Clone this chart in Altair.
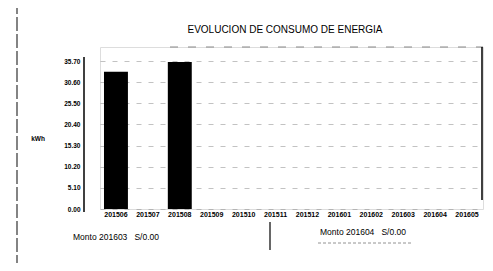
import altair as alt
import pandas as pd

# ---- data ----
months = ["201506", "201507", "201508", "201509", "201510", "201511",
          "201512", "201601", "201602", "201603", "201604", "201605"]
consumo = [33.1, None, 35.5, None, None, None, None, None, None, None, None, None]
y_ticks = [0.00, 5.10, 10.20, 15.30, 20.40, 25.50, 30.60, 35.70]
title_text = "EVOLUCION DE CONSUMO DE ENERGIA"
y_title = "kWh"
monto_labels = ["Monto 201603\u00a0\u00a0\u00a0S/0.00", "Monto 201604\u00a0\u00a0\u00a0S/0.00"]

W, H = 383, 162
FONT = "Liberation Sans"

df = pd.DataFrame({"mes": months, "kwh": consumo})

bars = alt.Chart(df).mark_bar(color="black").encode(
    x=alt.X("mes:N",
            scale=alt.Scale(domain=months, paddingInner=0.25, paddingOuter=0.125),
            axis=alt.Axis(title=None, labelAngle=0, ticks=False, tickSize=0, domain=False,
                          labelFontSize=7, labelFontWeight="bold", labelPadding=1,
                          grid=False, labelColor="black", labelFont=FONT)),
    y=alt.Y("kwh:Q",
            scale=alt.Scale(domain=[0, 39.1], nice=False, zero=True),
            axis=alt.Axis(values=y_ticks, format=".2f", title=None,
                          ticks=False, tickSize=0, domain=False,
                          labelFontSize=6.5, labelFontWeight="bold", labelPadding=20,
                          labelColor="black", labelFont=FONT,
                          gridColor="#999999", gridDash=[5, 7], gridOpacity=0.6, gridWidth=1)),
)

# frame decorations
frame_df = pd.DataFrame({"k": ["a"]})
axis_line = alt.Chart(frame_df).mark_rule(color="black", strokeWidth=1.5).encode(
    x=alt.value(-16), y=alt.value(10), y2=alt.value(165))
top_line = alt.Chart(frame_df).mark_rule(color="#888888", strokeDash=[8, 10], strokeWidth=1).encode(
    x=alt.value(70), x2=alt.value(W), y=alt.value(0))
right_line = alt.Chart(frame_df).mark_rule(color="black", strokeWidth=1.5).encode(
    x=alt.value(W - 1), y=alt.value(0), y2=alt.value(153))
left_border = alt.Chart(frame_df).mark_rule(color="#333333", strokeWidth=1.2, strokeDash=[14, 3]).encode(
    x=alt.value(-83), y=alt.value(-47), y2=alt.value(216))
divider = alt.Chart(frame_df).mark_rule(color="black", strokeWidth=1.2).encode(
    x=alt.value(170), y=alt.value(175), y2=alt.value(203))
underline = alt.Chart(frame_df).mark_rule(color="#777777", strokeWidth=0.8, strokeDash=[3, 2]).encode(
    x=alt.value(218), x2=alt.value(312), y=alt.value(196))

text_df = pd.DataFrame({"t": [title_text, y_title] + monto_labels})
title_mark = alt.Chart(text_df.iloc[[0]]).mark_text(fontSize=10, font=FONT, color="black",
                                                    align="center", baseline="middle").encode(
    text="t:N", x=alt.value(185), y=alt.value(-17))
ytitle_mark = alt.Chart(text_df.iloc[[1]]).mark_text(fontSize=6.5, font=FONT, fontWeight="bold",
                                                     color="black", align="center",
                                                     baseline="middle").encode(
    text="t:N", x=alt.value(-62), y=alt.value(92))
m1 = alt.Chart(text_df.iloc[[2]]).mark_text(fontSize=8.5, font=FONT, color="black", align="center").encode(
    text="t:N", x=alt.value(16), y=alt.value(190))
m2 = alt.Chart(text_df.iloc[[3]]).mark_text(fontSize=8.5, font=FONT, color="black", align="center").encode(
    text="t:N", x=alt.value(263), y=alt.value(185))

chart = alt.layer(bars, axis_line, top_line, right_line, left_border, divider, underline,
                  title_mark, ytitle_mark, m1, m2).properties(
    width=W, height=H,
    autosize=alt.AutoSizeParams(type="none"),
    padding={"left": 92, "top": 39, "right": 2, "bottom": 54},
).configure_view(strokeWidth=0).configure(background="white")

chart.save("out.html", embed_options={"renderer": "svg", "actions": False})
